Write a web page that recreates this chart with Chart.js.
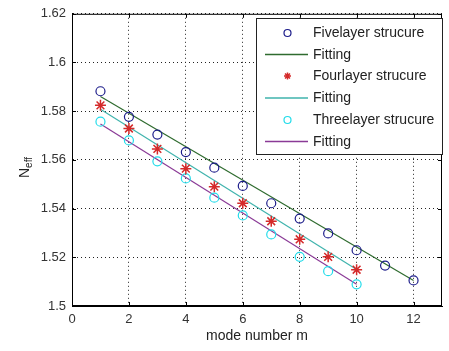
<!DOCTYPE html>
<html><head><meta charset="utf-8">
<script src="https://cdn.jsdelivr.net/npm/chart.js@4/dist/chart.umd.min.js"></script>
<style>html,body{margin:0;padding:0;background:#fff}#wrap{width:449px;height:351px}</style>
</head><body><div id="wrap"><canvas id="c" width="449" height="351"></canvas></div>
<script>
const modesFive = [1,2,3,4,5,6,7,8,9,10,11,12];
const fiveLayer = [1.5882,1.5777,1.5704,1.5632,1.5568,1.5493,1.5422,1.5359,1.5298,1.5229,1.5166,1.5105];
const modesFour = [1,2,3,4,5,6,7,8,9,10];
const fourLayer = [1.5824,1.5729,1.5645,1.5564,1.5490,1.5422,1.5348,1.5274,1.5202,1.5149];
const modesThree = [1,2,3,4,5,6,7,8,9,10];
const threeLayer = [1.5757,1.5680,1.5594,1.5524,1.5445,1.5372,1.5294,1.5202,1.5143,1.5089];
const fitFiveX = [1,12];  const fitFive = [1.5860,1.5105];
const fitFourX = [1,10];  const fitFour = [1.5808,1.5150];
const fitThreeX = [1,10]; const fitThree = [1.5747,1.5089];
const xTicks = [0,2,4,6,8,10,12];
const yTicks = [1.5,1.52,1.54,1.56,1.58,1.6,1.62];
const yTickLabels = ["1.5","1.52","1.54","1.56","1.58","1.6","1.62"];
const labels = ["Fivelayer strucure","Fitting","Fourlayer strucure","Fitting","Threelayer strucure","Fitting"];

const pts = (xs, ys) => xs.map((x,i)=>({x:x,y:ys[i]}));
const FONT = "'Liberation Sans', Arial, sans-serif";

const datasets = [
  {label:labels[0], data:pts(modesFive,fiveLayer), showLine:false, pointStyle:'circle', pointRadius:4.5, borderColor:'#1c1c8a', backgroundColor:'rgba(0,0,0,0)', borderWidth:1.2, order:1},
  {label:labels[1], data:pts(fitFiveX,fitFive), showLine:true, pointRadius:0, borderColor:'#2f6b2f', borderWidth:1.2, order:2},
  {label:labels[2], data:pts(modesFour,fourLayer), showLine:false, pointStyle:'star', pointRadius:5.5, borderColor:'#d42a2a', backgroundColor:'#d42a2a', borderWidth:1.5, order:1},
  {label:labels[3], data:pts(fitFourX,fitFour), showLine:true, pointRadius:0, borderColor:'#3fb3ad', borderWidth:1.2, order:2},
  {label:labels[4], data:pts(modesThree,threeLayer), showLine:false, pointStyle:'circle', pointRadius:4.5, borderColor:'#22dcea', backgroundColor:'rgba(0,0,0,0)', borderWidth:1.2, order:1},
  {label:labels[5], data:pts(fitThreeX,fitThree), showLine:true, pointRadius:0, borderColor:'#8a3a96', borderWidth:1.2, order:2}
];

const framePlugin = {
  id:'frame',
  afterDraw(chart){
    const ctx = chart.ctx, a = chart.chartArea;
    const xs = chart.scales.x, ys = chart.scales.y;
    ctx.save();
    ctx.strokeStyle = '#000'; ctx.lineWidth = 1;
    ctx.strokeRect(a.left+0.5, a.top+0.5, a.right-a.left-1, a.bottom-a.top-1);
    ctx.beginPath();
    xTicks.forEach(v=>{const px=Math.round(xs.getPixelForValue(v))+0.5; ctx.moveTo(px,a.bottom); ctx.lineTo(px,a.bottom-4); ctx.moveTo(px,a.top); ctx.lineTo(px,a.top+4);});
    yTicks.forEach(v=>{const py=Math.round(ys.getPixelForValue(v))+0.5; ctx.moveTo(a.left,py); ctx.lineTo(a.left+4,py); ctx.moveTo(a.right,py); ctx.lineTo(a.right-4,py);});
    ctx.stroke();
    ctx.translate(24, 168);
    ctx.rotate(-Math.PI/2);
    ctx.fillStyle = '#222';
    ctx.textBaseline = 'alphabetic';
    ctx.font = '14px ' + FONT;
    const nW = ctx.measureText('N').width;
    ctx.fillText('N', -10, 5);
    ctx.font = '10px ' + FONT;
    ctx.fillText('eff', -10 + nW, 8);
    ctx.restore();

    const lx = 256, ly = 18, lw = 186, lh = 136;
    ctx.save();
    ctx.fillStyle = '#fff';
    ctx.fillRect(lx, ly, lw, lh);
    ctx.strokeStyle = '#222'; ctx.lineWidth = 1;
    ctx.strokeRect(lx+0.5, ly+0.5, lw, lh);
    ctx.font = '14px ' + FONT;
    ctx.textBaseline = 'middle';
    const rows = [33,54.5,76,98,120,141.5];
    chart.data.datasets.forEach((ds,i)=>{
      const y = rows[i];
      if (ds.showLine) {
        ctx.strokeStyle = ds.borderColor; ctx.lineWidth = 1.3;
        ctx.beginPath(); ctx.moveTo(265,y); ctx.lineTo(308,y); ctx.stroke();
      } else {
        ctx.strokeStyle = ds.borderColor;
        ctx.lineWidth = ds.borderWidth;
        ctx.beginPath();
        if (ds.pointStyle === 'circle') { ctx.arc(287.5, y, 3.5, 0, Math.PI*2); ctx.stroke(); }
        else { for (let k=0;k<4;k++){const ang=k*Math.PI/4; ctx.moveTo(287.5-3.5*Math.cos(ang), y-3.5*Math.sin(ang)); ctx.lineTo(287.5+3.5*Math.cos(ang), y+3.5*Math.sin(ang));} ctx.stroke(); }
      }
      ctx.fillStyle = '#222';
      ctx.fillText(ds.label, 313, y+0.5);
    });
    ctx.restore();
  }
};

new Chart(document.getElementById('c'), {
  type:'line',
  data:{datasets},
  options:{
    responsive:false, animation:false,
    layout:{padding:{top:10,right:1,left:0,bottom:0}},
    plugins:{legend:{display:false}, tooltip:{enabled:false}},
    scales:{
      x:{type:'linear', min:0, max:13,
        afterBuildTicks(s){ s.ticks = xTicks.map(v=>({value:v})); },
        afterFit(s){ s.height = 45; },
        grid:{color:'#222', lineWidth:1, drawTicks:false},
        border:{color:'#000', dash:[1,3]},
        ticks:{color:'#333', padding:6, font:{size:13, family:FONT}, maxRotation:0, callback:v=>String(v)},
        title:{display:true, text:'mode number m', color:'#222', font:{size:14, family:FONT}, padding:{top:0,bottom:6}}
      },
      y:{type:'linear', min:1.5, max:1.62,
        afterBuildTicks(s){ s.ticks = yTicks.map(v=>({value:v})); },
        afterFit(s){ s.width = 72; },
        grid:{color:'#222', lineWidth:1, drawTicks:false},
        border:{color:'#000', dash:[1,3]},
        ticks:{color:'#333', padding:6, font:{size:13, family:FONT}, callback:(v,i)=>yTickLabels[i]}
      }
    }
  },
  plugins:[framePlugin]
});
</script></body></html>
